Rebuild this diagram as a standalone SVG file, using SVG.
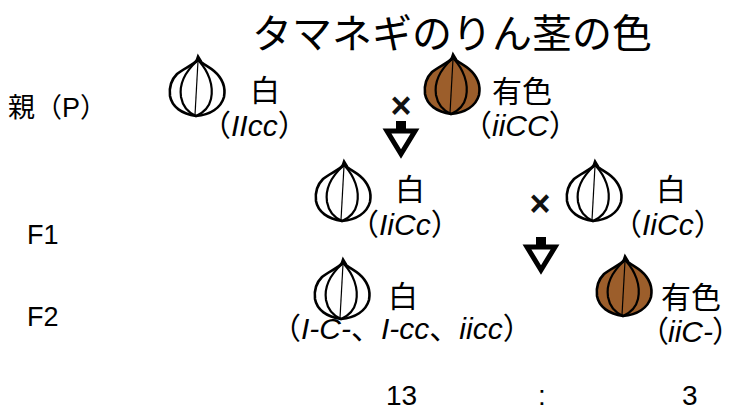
<svg xmlns="http://www.w3.org/2000/svg" xmlns:xlink="http://www.w3.org/1999/xlink" width="732" height="410" viewBox="0 0 732 410">
  <style>
    text { font-family: "Liberation Sans", "Noto Sans CJK JP", sans-serif; fill: #000; }
    .title { font-size: 40px; font-family: "Noto Sans CJK JP", sans-serif; }
    .gen { font-size: 27px; }
    .lbl { font-size: 30px; }
    .tight { font-feature-settings: "palt"; }
    .num { font-size: 28px; }
    .cross { font-size: 36px; font-weight: bold; fill: #111; }
    .white { fill: #fff; }
    .brown { fill: #9c5e2b; }
    .bulb { stroke: #000; stroke-width: 2.6; stroke-linejoin: round; stroke-linecap: round; }
    .vein { fill: none; stroke: #000; stroke-width: 2.2; stroke-linecap: round; }
    .core { fill: none; stroke: #000; stroke-width: 1.2; }
    .arrow-head { fill: #fff; stroke: #000; stroke-width: 5; stroke-linejoin: miter; }
  </style>
  <defs>
    <!-- onion bulb outline with its veins; fill comes from the <use> -->
    <g id="onion">
      <path class="bulb" d="M30,2 C26,8 16,11 9,17 C3,23 1,31 2,39 C4,50 14,57 28,59 C42,58 53,51 56,40 C58,29 53,20 46,14 C40,9 34,7 30,2 Z"/>
      <path class="vein" d="M29,4 C18,14 11,27 13,40 C15,51 21,56 28,59"/>
      <path class="vein" d="M31,4 C40,14 46,28 43,42 C41,51 35,56 28,59"/>
      <path class="core" d="M30,4 C29,22 28,40 27,58"/>
      <path class="vein" d="M28,5 L30,-1 L33,4"/>
    </g>
    <!-- downward hollow arrow, origin at top centre -->
    <g id="down">
      <rect x="-5" y="0" width="10" height="10" fill="#000"/>
      <polygon class="arrow-head" points="-14,10 14,10 0,33"/>
    </g>
  </defs>

  <text class="title" x="452" y="48" text-anchor="middle">タマネギのりん茎の色</text>

  <g id="generation-labels">
    <text class="gen" x="8" y="117">親（P）</text>
    <text class="gen" x="27" y="244">F1</text>
    <text class="gen" x="27" y="326">F2</text>
  </g>

  <g id="connectors">
    <text class="cross" x="401" y="118" text-anchor="middle">×</text>
    <use xlink:href="#down" x="401" y="121"/>
    <text class="cross" x="540" y="216" text-anchor="middle">×</text>
    <use xlink:href="#down" x="541" y="237"/>
  </g>

  <g id="p-white">
    <use xlink:href="#onion" class="white" x="168" y="57"/>
    <text class="lbl" x="250" y="101">白</text>
    <text class="lbl" x="201" y="136">（<tspan font-style="italic">IIcc</tspan>）</text>
  </g>

  <g id="p-coloured">
    <use xlink:href="#onion" class="brown" x="423" y="55"/>
    <text class="lbl" x="492" y="102">有色</text>
    <text class="lbl" x="462" y="136">（<tspan font-style="italic">iiCC</tspan>）</text>
  </g>

  <g id="f1-left">
    <use xlink:href="#onion" class="white" x="314" y="162"/>
    <text class="lbl" x="395" y="200">白</text>
    <text class="lbl" x="349" y="235">（<tspan font-style="italic">IiCc</tspan>）</text>
  </g>

  <g id="f1-right">
    <use xlink:href="#onion" class="white" x="565" y="162"/>
    <text class="lbl" x="656" y="200">白</text>
    <text class="lbl" x="612" y="235">（<tspan font-style="italic">IiCc</tspan>）</text>
  </g>

  <g id="f2-white">
    <use xlink:href="#onion" class="white" x="313" y="260"/>
    <text class="lbl" x="388" y="307">白</text>
    <text class="lbl" x="271" y="339">（<tspan font-style="italic">I-C-</tspan>、<tspan font-style="italic">I-cc</tspan>、<tspan font-style="italic">iicc</tspan>）</text>
  </g>

  <g id="f2-coloured">
    <use xlink:href="#onion" class="brown" x="595" y="257"/>
    <text class="lbl" x="661" y="308">有色</text>
    <text class="lbl tight" x="653" y="342">（<tspan font-style="italic">iiC-</tspan>）</text>
  </g>

  <g id="ratio">
    <text class="num" x="386" y="405">13</text>
    <text class="num" x="538" y="405">:</text>
    <text class="num" x="682" y="405">3</text>
  </g>
</svg>
